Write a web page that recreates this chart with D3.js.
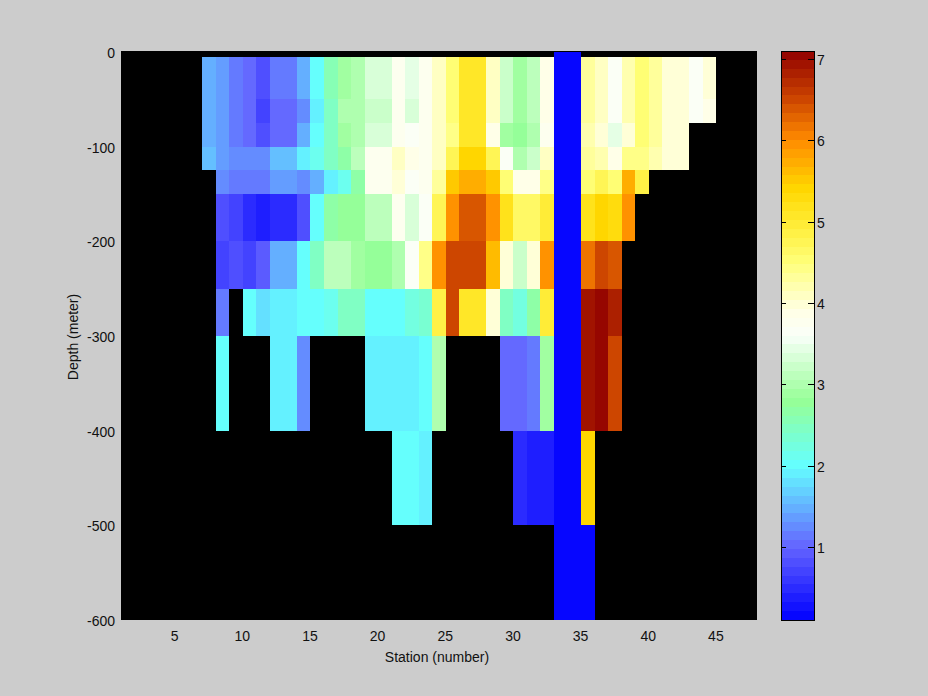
<!DOCTYPE html>
<html>
<head>
<meta charset="utf-8">
<script src="https://cdn.jsdelivr.net/npm/d3@7/dist/d3.min.js"></script>
<style>
html,body{margin:0;padding:0;background:#ccc;}
svg{display:block;}
text{font-family:"Liberation Sans",sans-serif;font-size:14px;fill:#111;}
</style>
</head>
<body>
<svg id="chart" width="928" height="696"></svg>
<script>
const n = null;
// Stations of the first column of each row below: station 7 .. 44
const firstStation = 7;
const depthEdges = [0,-5,-50,-75,-100,-125,-150,-200,-250,-300,-400,-500,-600];
const xTickValues = [5,10,15,20,25,30,35,40,45];
const yTickValues = [0,-100,-200,-300,-400,-500,-600];
const cbarTicks = [1,2,3,4,5,6,7];
const valueRange = [0.1,7.1];
const cmapValues = [0.1,1.0,1.5,2.0,2.8,3.6,3.9,4.5,5.0,5.4,6.0,6.5,7.1];
const cmapColors = ["#0000ff","#6464ff","#64b4ff","#64ffff","#96ff96","#faffFA","#ffffe6","#ffff78","#ffeb32","#ffd700","#ff8c00","#cd4600","#910000"];

//                 7    8    9    10   11   12   13   14   15   16   17   18   19   20   21   22   23   24   25   26   27   28   29   30   31   32   33   34   35   36   37   38   39   40   41   42   43   44
const row00 = [    n,   n,   n,   n,   n,   n,   n,   n,   n,   n,   n,   n,   n,   n,   n,   n,   n,   n,   n,   n,   n,   n,   n,   n,   n,   n, 0.1, 0.1,   n,   n,   n,   n,   n,   n,   n,   n,   n,   n];
const row05 = [  1.5,1.35,1.15, 1.0,0.85, 1.1, 1.1,1.45, 2.0, 2.6, 2.9, 3.0, 3.3, 3.3,3.75,3.45,3.75,4.05, 4.5, 5.1, 5.1, 4.05, 3.2, 2.9, 3.1, 3.9, 0.1, 0.1, 4.3, 4.05,3.65,4.2,4.55, 4.3,4.0,4.0, 3.6,4.0];
const row50 = [  1.5,1.35,1.15, 1.0, 0.7, 1.0, 1.0, 1.3,1.95, 2.5, 3.0, 3.0, 3.2, 3.2,3.75,3.35,3.75,4.05, 4.5, 5.1, 5.1, 4.05, 3.2, 2.9, 3.1, 3.9, 0.1, 0.1, 4.3, 4.05,3.65,4.2,4.55, 4.3,4.0,4.0, 3.6, 3.85];
const row75 = [  1.5,1.35,1.15, 1.0,0.85, 1.0, 1.0,1.45,2.05, 2.5,2.85, 3.0,3.35,3.35,3.75, 3.6, 3.8,4.05, 4.4, 5.1, 5.1, 3.9, 2.9,2.75,2.95,3.75, 0.1, 0.1,4.2, 3.95,3.45, 3.95,4.55, 4.3,4.0,4.0,   n,   n];
const row100 = [ 1.6,1.35,1.25,1.25,1.25, 1.6, 1.6,1.95,2.15,2.45, 2.7,3.15,3.75,3.75,4.1,3.85, 3.8,4.1, 4.7,5.35,5.35, 4.8, 3.6,3.05, 3.2, 4.1, 0.1, 0.1, 4.3, 4.15, 3.9,4.45,4.45, 4.15,4.0,4.0,   n,   n];
const row125 = [   n,1.25, 1.1, 1.1, 1.1, 1.4, 1.4, 1.2, 1.5,1.95,2.15, 2.7,3.75,3.75,3.95,3.65,3.75,4.35, 5.5,5.75,5.75, 5.5,4.55, 3.9, 3.9, 4.4, 0.1, 0.1,4.55,4.75,4.55, 5.7, 4.9,   n,   n,   n,   n,   n];
const row150 = [   n,0.85,0.65, 0.5, 0.4, 0.5, 0.5,0.85, 2.0, 2.7, 2.8, 2.8, 3.1, 3.1, 3.8,3.35, 3.6, 4.7, 6.0,6.35,6.35,5.95,5.15,4.65,4.65, 5.0, 0.1, 0.1,5.15, 5.4,5.25,5.95,   n,   n,   n,   n,   n,   n];
const row200 = [   n,0.65,0.85, 0.7,0.95, 1.5, 1.5, 2.0, 2.5, 3.1, 3.1,2.85, 2.8, 2.8,3.05,3.65,4.45,5.95,6.55,6.55,6.55, 5.6,3.95, 3.2, 4.0,5.95, 0.1, 0.1, 6.2,6.55,6.35,   n,   n,   n,   n,   n,   n,   n];
const row250 = [   n,1.15,   n, 2.0,1.75,1.85,1.85, 2.0, 2.0,2.15,2.45,2.45, 2.0, 2.0,2.05, 2.2, 2.3,4.85,6.45, 5.1, 5.1,3.95, 2.4,2.25, 2.7,4.95, 0.1, 0.1, 6.9,7.05, 6.8,   n,   n,   n,   n,   n,   n,   n];
const row300 = [   n, 2.0,   n,   n,   n, 1.9, 1.9,1.25,   n,   n,   n,   n, 1.9, 1.9, 1.9, 1.9, 2.0, 3.0,   n,   n,   n,   n, 1.0, 1.0,1.15, 2.9, 0.1, 0.1, 6.9,7.05,6.55,   n,   n,   n,   n,   n,   n,   n];
const row400 = [   n,   n,   n,   n,   n,   n,   n,   n,   n,   n,   n,   n,   n,   n, 2.0, 2.0, 1.9,   n,   n,   n,   n,   n,   n,0.45, 0.4, 0.4, 0.1, 0.1,5.35,   n,   n,   n,   n,   n,   n,   n,   n,   n];
const row500 = [   n,   n,   n,   n,   n,   n,   n,   n,   n,   n,   n,   n,   n,   n,   n,   n,   n,   n,   n,   n,   n,   n,   n,   n,   n,   n, 0.1, 0.1, 0.1,   n,   n,   n,   n,   n,   n,   n,   n,   n];
const rows = [row00,row05,row50,row75,row100,row125,row150,row200,row250,row300,row400,row500];

const svg = d3.select("#chart");
const plot = {left:121,right:757,top:52,bottom:620};
const bar = {left:781,right:814,top:51,bottom:620};

const x = d3.scaleLinear().domain([1,48]).range([plot.left,plot.right]);
const y = d3.scaleLinear().domain([0,-600]).range([plot.top,plot.bottom]);
const interp = d3.scaleLinear().domain(cmapValues).range(cmapColors).interpolate(d3.interpolateRgb);
const levels = 64;
const step = (valueRange[1]-valueRange[0])/levels;
const color = d3.scaleQuantize().domain(valueRange).range(d3.range(levels).map(i=>interp(valueRange[0]+(i+0.5)*step)));

// Plot background (missing data is black)
svg.append("rect").attr("x",plot.left).attr("y",plot.top-1).attr("width",plot.right-plot.left).attr("height",plot.bottom-plot.top+1).attr("fill","#000").attr("shape-rendering","crispEdges");

const cells = [];
rows.forEach((r,ri)=>r.forEach((v,ci)=>{ if(v!==null) cells.push({ri,ci,v}); }));
svg.append("g").attr("shape-rendering","crispEdges").selectAll("rect").data(cells).join("rect")
  .attr("x",d=>Math.round(x(firstStation+d.ci)))
  .attr("width",d=>Math.round(x(firstStation+d.ci+1))-Math.round(x(firstStation+d.ci)))
  .attr("y",d=>Math.round(y(depthEdges[d.ri])))
  .attr("height",d=>Math.round(y(depthEdges[d.ri+1]))-Math.round(y(depthEdges[d.ri])))
  .attr("fill",d=>color(d.v));

// Axes
const fontFix = g => g.selectAll("text").style("font-size","14px").style("font-family",'"Liberation Sans"').attr("fill","#111");
const xAxis = d3.axisBottom(x).tickValues(xTickValues).tickSize(0).tickPadding(11);
const gx = svg.append("g").attr("transform",`translate(-1,${plot.bottom})`).call(xAxis);
const yAxis = d3.axisLeft(y).tickValues(yTickValues).tickFormat(String).tickSize(0).tickPadding(6);
const gy = svg.append("g").attr("transform",`translate(${plot.left},1)`).call(yAxis);
gx.select(".domain").remove(); gy.select(".domain").remove();
gx.call(fontFix); gy.call(fontFix);

svg.append("text").attr("x",437).attr("y",662).attr("text-anchor","middle").text("Station (number)");
svg.append("text").attr("transform","translate(78,337) rotate(-90)").attr("text-anchor","middle").text("Depth (meter)");

// Colorbar
const cy = d3.scaleLinear().domain(valueRange).range([bar.bottom,bar.top]);
svg.append("g").attr("shape-rendering","crispEdges").selectAll("rect").data(d3.range(levels)).join("rect")
  .attr("x",bar.left).attr("width",bar.right-bar.left)
  .attr("y",i=>Math.round(cy(valueRange[0]+(i+1)*step)))
  .attr("height",i=>Math.round(cy(valueRange[0]+i*step))-Math.round(cy(valueRange[0]+(i+1)*step)))
  .attr("fill",i=>color(valueRange[0]+(i+0.5)*step));
svg.append("rect").attr("x",bar.left).attr("y",bar.top).attr("width",bar.right-bar.left).attr("height",bar.bottom-bar.top)
  .attr("fill","none").attr("stroke","#000").attr("stroke-width",1).attr("shape-rendering","crispEdges");
const gc = svg.append("g").attr("transform",`translate(${bar.right},1)`).call(d3.axisRight(cy).tickValues(cbarTicks).tickFormat(d3.format("d")).tickSize(0).tickPadding(3));
gc.select(".domain").remove();
gc.call(fontFix);
svg.append("g").attr("shape-rendering","crispEdges").selectAll("g").data(cbarTicks).join("g").each(function(t){
  const g = d3.select(this), yy = Math.round(cy(t));
  g.append("line").attr("x1",bar.left).attr("x2",bar.left+5).attr("y1",yy).attr("y2",yy).attr("stroke","#000");
  g.append("line").attr("x1",bar.right-6).attr("x2",bar.right).attr("y1",yy).attr("y2",yy).attr("stroke","#000");
});
</script>
</body>
</html>
